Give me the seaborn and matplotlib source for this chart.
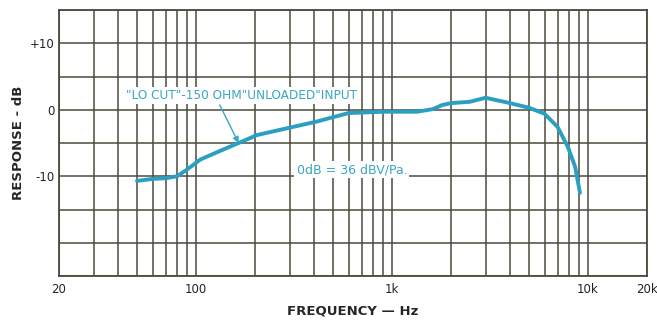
import numpy as np
import pandas as pd
import matplotlib
matplotlib.use("Agg")
import matplotlib.pyplot as plt
import matplotlib.ticker as mticker
import seaborn as sns

sns.set_theme(style="white")
plt.rcParams['font.family'] = ['DejaVu Sans']

## Data ##

freq_hz = [50, 60, 70, 80, 90, 105, 130, 165, 205, 300, 410, 600, 900, 1340,
           1620, 1800, 2000, 2500, 3000, 4000, 5000, 6000, 7000, 7900, 8600, 9100]
response_db = [-10.7, -10.4, -10.3, -10.0, -9.0, -7.5, -6.3, -5.0, -3.8, -2.7,
               -1.8, -0.5, -0.3, -0.3, 0.1, 0.7, 1.0, 1.2, 1.8, 1.0, 0.3, -0.6,
               -2.6, -5.6, -8.6, -12.5]

x_ticks = [20, 100, 1000, 10000, 20000]
x_ticklabels = ["20", "100", "1k", "10k", "20k"]
y_ticks = [10, 0, -10]
y_ticklabels = ["+10", "0", "-10"]

df = pd.DataFrame({"freq": freq_hz, "db": response_db})

grid_col = "#4b4a3c"
curve_col = "#2b9fc2"
text_col = "#3aa6c2"

## Plot ##

fig = plt.figure(figsize=(6.57, 3.21), dpi=100)
ax = fig.add_axes([59 / 657, 1 - 276 / 321, 588 / 657, 266 / 321])

sns.lineplot(data=df, x="freq", y="db", ax=ax, color=curve_col,
             linewidth=2.8, zorder=3)

ax.set_xscale("log")
ax.set_xlim(20, 20000)
ax.set_ylim(-25, 15)

# labelled ticks as majors, full log grid as minors
ax.set_xticks(x_ticks)
ax.set_xticklabels(x_ticklabels)
ax.xaxis.set_minor_locator(mticker.LogLocator(base=10, subs=np.arange(1, 10)))
ax.xaxis.set_minor_formatter(mticker.NullFormatter())
ax.set_yticks(y_ticks)
ax.set_yticklabels(y_ticklabels)
ax.yaxis.set_minor_locator(mticker.MultipleLocator(5))

ax.grid(True, which="both", color=grid_col, linewidth=1.1)
ax.tick_params(which="both", length=0, labelsize=8.5, colors="#222222")
ax.tick_params(axis="x", pad=5)
ax.tick_params(axis="y", pad=3)

for s in ax.spines.values():
    s.set_color(grid_col)
    s.set_linewidth(1.3)

ax.set_xlabel("FREQUENCY \u2014 Hz", fontsize=9.5, fontweight="bold", labelpad=6)
ax.set_ylabel("RESPONSE - dB", fontsize=9.5, fontweight="bold", labelpad=4)

bbox = dict(facecolor="white", edgecolor="none", pad=1.5)
ax.annotate('"LO CUT"-150 OHM"UNLOADED"INPUT', xy=(165, -5.0), xytext=(170, 2.2),
            fontsize=8.7, color=text_col, ha="center", va="center", bbox=bbox,
            arrowprops=dict(arrowstyle="-|>", color=text_col, lw=1.0,
                            shrinkA=1, shrinkB=0, relpos=(0.4, 0)), zorder=4)
ax.text(625, -9.0, "0dB = 36 dBV/Pa.", fontsize=9, color=text_col,
        ha="center", va="center", bbox=bbox, zorder=4)

plt.savefig("out.png", dpi=100)
